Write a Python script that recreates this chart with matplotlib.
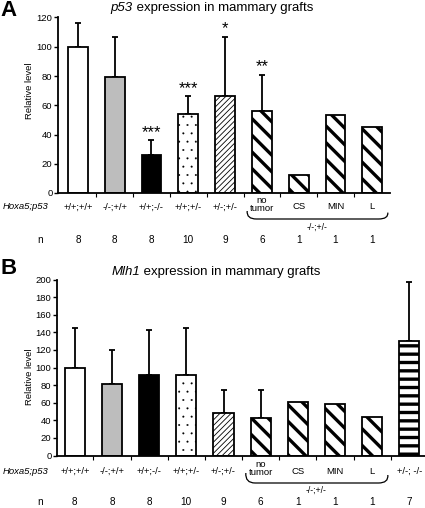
import matplotlib
matplotlib.use('Agg')
import matplotlib.pyplot as plt
from matplotlib.path import Path
from matplotlib.patches import PathPatch
from matplotlib.transforms import blended_transform_factory
import numpy as np

plt.rcParams['font.family'] = ['Liberation Sans', 'DejaVu Sans']

# ---------------- data ----------------
a_labels = ['+/+;+/+', '-/-;+/+', '+/+;-/-', '+/+;+/-', '+/-;+/-', 'no\ntumor', 'CS', 'MIN', 'L']
a_values = [100, 79.5, 26, 54, 66, 56, 12, 53, 45]
a_errors = [16, 27.5, 10, 12, 41, 25, 0, 0, 0]
a_n = ['8', '8', '8', '10', '9', '6', '1', '1', '1']
a_stars = ['', '', '***', '***', '*', '**', '', '', '']
a_styles = ['open', 'gray', 'black', 'dots', 'fine', 'thick', 'thick', 'thick', 'thick']

b_labels = ['+/+;+/+', '-/-;+/+', '+/+;-/-', '+/+;+/-', '+/-;+/-', 'no\ntumor', 'CS', 'MIN', 'L', '+/-; -/-']
b_values = [100, 81, 92, 92, 48, 43, 61, 59, 44, 130]
b_errors = [45, 39, 51, 53, 26, 32, 0, 0, 0, 67]
b_n = ['8', '8', '8', '10', '9', '6', '1', '1', '1', '7']
b_styles = ['open', 'gray', 'black', 'dots', 'fine', 'thick', 'thick', 'thick', 'thick', 'stripes']

group_label = '-/-;+/-'

STYLE = {
    'open':    dict(fc='white', hatch=None, hlw=1.0),
    'gray':    dict(fc='#bdbdbd', hatch=None, hlw=1.0),
    'black':   dict(fc='black', hatch=None, hlw=1.0),
    'dots':    dict(fc='white', hatch='..', hlw=0.2),
    'fine':    dict(fc='white', hatch='//////', hlw=0.6),
    'thick':   dict(fc='white', hatch='\\\\', hlw=2.4),
    'stripes': dict(fc='white', hatch='--', hlw=2.4),
}

W, H = 425, 508
fig = plt.figure(figsize=(W / 100, H / 100), dpi=100)
renderer = fig.canvas.get_renderer()


def fx(px):
    return px / W


def fy(py):
    return 1 - py / H


FS = 6.8


def title_text(cx, cy, italic, rest, size):
    t1 = fig.text(0, fy(cy), italic, style='italic', ha='left', va='center', fontsize=size)
    t2 = fig.text(0, fy(cy), rest, ha='left', va='center', fontsize=size)
    w1 = t1.get_window_extent(renderer).width
    w2 = t2.get_window_extent(renderer).width
    xs = cx - (w1 + w2) / 2
    t1.set_x(fx(xs))
    t2.set_x(fx(xs + w1))


def panel(x0, x1, ytop, ybot, ymax, ystep, labels, values, errors, ns, styles,
          stars, title, title_italic, title_xy, letter_xy, ylabel_xy,
          row_y, n_y, brace_y, group_y, xlim):
    ax = fig.add_axes([fx(x0), fy(ybot), fx(x1 - x0), (ybot - ytop) / H])
    x = np.arange(len(values))
    for i, (v, s) in enumerate(zip(values, styles)):
        st = STYLE[s]
        b = ax.bar(x[i], v, width=0.54, color=st['fc'], edgecolor='black',
                   linewidth=1.3, hatch=st['hatch'], zorder=2)[0]
        if hasattr(b, 'set_hatch_linewidth'):
            b.set_hatch_linewidth(st['hlw'])
        if errors[i] > 0:
            ax.errorbar(x[i], v, yerr=[[0], [errors[i]]], fmt='none',
                        ecolor='black', elinewidth=1.3, capsize=2.2,
                        capthick=1.3, zorder=1)
        if stars and stars[i]:
            ax.annotate(stars[i], (x[i], v + errors[i]), xytext=(0, 8),
                        textcoords='offset pixels', ha='center', va='center',
                        fontsize=12)
    ax.set_xlim(*xlim)
    ax.set_ylim(0, ymax)
    ax.set_yticks(np.arange(0, ymax + 1, ystep))
    ax.tick_params(axis='y', direction='out', length=3, width=1, labelsize=FS, pad=1)
    ax.set_xticks([])
    ax.set_xticks(x[:-1] + 0.5, minor=True)
    ax.tick_params(axis='x', which='minor', direction='out', length=3, width=0.8)
    for sp in ['top', 'right']:
        ax.spines[sp].set_visible(False)
    for sp in ['left', 'bottom']:
        ax.spines[sp].set_linewidth(1.3)

    tr = blended_transform_factory(ax.transData, fig.transFigure)
    for i, lab in enumerate(labels):
        yy = row_y - 2.5 if '\n' in lab else row_y
        ax.text(x[i], fy(yy), lab, transform=tr, ha='center', va='center',
                fontsize=FS, linespacing=0.85)
        ax.text(x[i], fy(n_y), ns[i], transform=tr, ha='center', va='center',
                fontsize=FS + 0.4)
    fig.text(fx(48), fy(row_y), 'Hoxa5;p53', ha='right', va='center',
             fontsize=FS, style='italic')
    fig.text(fx(40), fy(n_y), 'n', ha='center', va='center', fontsize=FS + 0.4)

    # brace under the -/-;+/- group
    bl, br = 5 - 0.4, 8 + 0.42
    yt, yb = fy(brace_y[0]), fy(brace_y[1])
    r = 0.25
    verts = [(bl, yt), (bl - 0.02, yb), (bl + r, yb), (br - r, yb),
             (br + 0.02, yb), (br, yt + (yt - yb) * -0.2)]
    codes = [Path.MOVETO, Path.CURVE3, Path.CURVE3, Path.LINETO,
             Path.CURVE3, Path.CURVE3]
    ax.add_patch(PathPatch(Path(verts, codes), transform=tr, fill=False,
                           lw=0.9, edgecolor='black', clip_on=False))
    ax.text(6.5, fy(group_y), group_label, transform=tr, ha='center',
            va='center', fontsize=FS - 0.6)

    title_text(title_xy[0], title_xy[1], title_italic, title, 9.5)
    fig.text(fx(letter_xy[0]), fy(letter_xy[1]), letter_xy[2], ha='left',
             va='center', fontsize=16, weight='bold')
    fig.text(fx(ylabel_xy[0]), fy(ylabel_xy[1]), 'Relative level',
             rotation=90, ha='center', va='center', fontsize=FS)
    return ax


panel(58, 390, 17.5, 193, 120, 20, a_labels, a_values, a_errors, a_n,
      a_styles, a_stars, ' expression in mammary grafts', 'p53',
      (212, 8), (0, 10, 'A'), (29, 91), 207, 240, (211, 219), 227,
      (-0.54, 8.48))

panel(57, 425, 279.5, 455.5, 200, 20, b_labels, b_values, b_errors, b_n,
      b_styles, None, ' expression in mammary grafts', 'Mlh1',
      (216, 272), (0, 268, 'B'), (29, 377), 471, 502, (473, 483), 490,
      (-0.48, 9.42))

fig.savefig('out.png', dpi=100)
